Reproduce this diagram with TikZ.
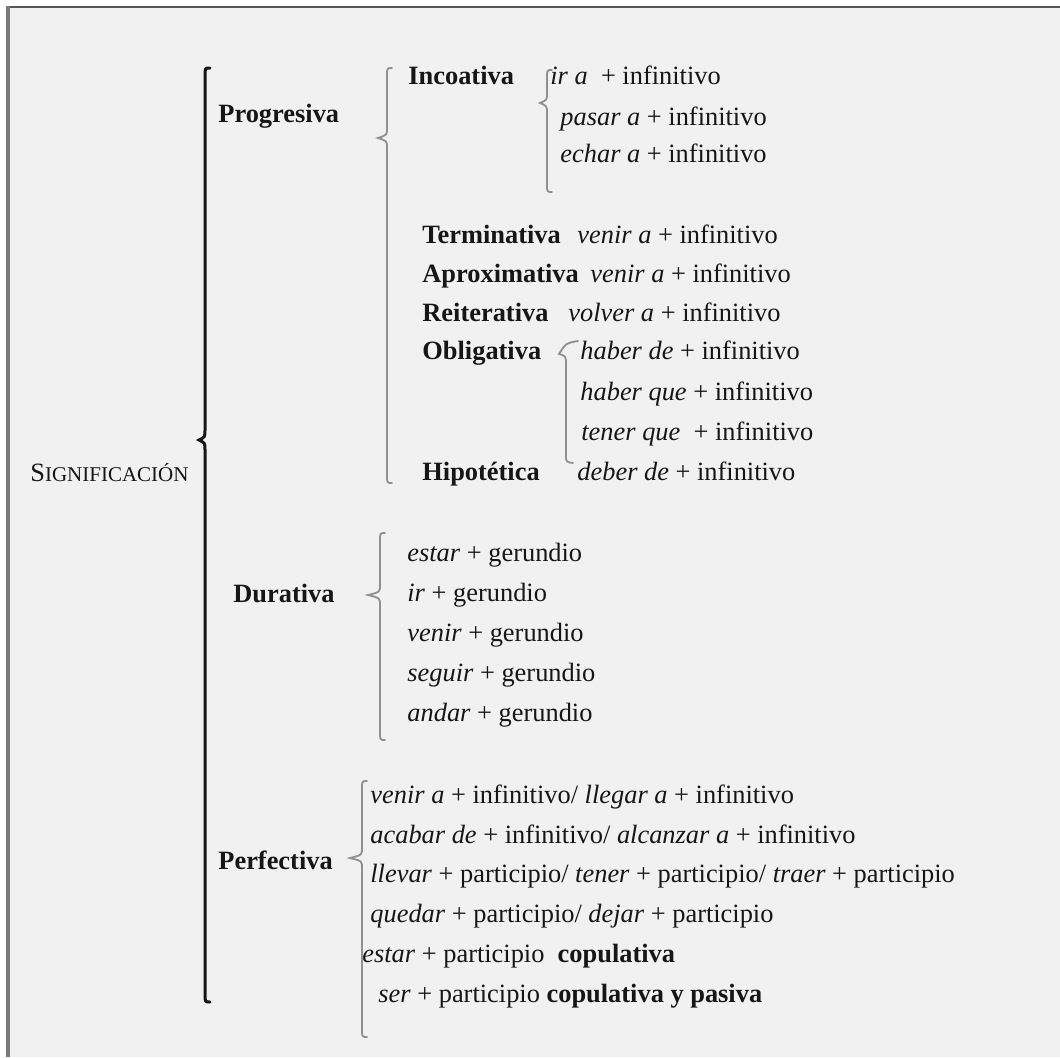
\documentclass[tikz,border=0pt]{standalone}
\usepackage{fontspec}
\setmainfont{Liberation Serif}
\usepackage{tikz}
\usetikzlibrary{positioning}
\definecolor{paper}{HTML}{F1F1F1}
\definecolor{ink}{HTML}{161616}
\definecolor{rimtop}{HTML}{555555}
\definecolor{rimleft}{HTML}{7A7A7A}
\definecolor{brgrey}{HTML}{909090}
\newcommand\txtsize{\fontsize{13.2pt}{15pt}\selectfont}
\tikzset{
  lbl/.style={anchor=base west,inner sep=0pt,font=\txtsize\bfseries,text=ink},
  itm/.style={anchor=base west,inner sep=0pt,font=\txtsize,text=ink},
  brc/.style={draw=brgrey,line width=0.9pt,line cap=round},
  mainbrc/.style={draw=ink,line width=1.5pt,line cap=round},
}
% #1 style, #2 x of stem, #3 x of tip, #4 top, #5 tip y, #6 bottom
\newcommand\curlybr[6]{%
  \draw[#1] ({#2+5},#4) .. controls (#2,#4) .. (#2,{#4+8}) -- (#2,{#5-10})
    .. controls (#2,{#5-3}) .. (#3,#5) .. controls (#2,{#5+3}) .. (#2,{#5+10})
    -- (#2,{#6-8}) .. controls (#2,#6) .. ({#2+5},#6);}

\begin{document}
\begin{tikzpicture}[x=0.5pt,y=-0.5pt]
  \useasboundingbox (0,0) rectangle (1060,1057);
  \fill[white] (0,0) rectangle (1060,1057);
  \fill[paper] (6,6) rectangle (1060,1057);
  \draw[rimtop,line width=1.3pt] (6,7) -- (1060,7);
  \draw[rimleft,line width=1.6pt] (8,6) -- (8,1057);

  \node[itm] (sig) at (30,481) {S{\fontsize{10.5pt}{12pt}\selectfont IGNIFICACIÓN}};
  \curlybr{mainbrc}{205}{199}{68}{440}{1002}

  \node[lbl] (prog) at (218,122) {Progresiva};
  \curlybr{brc}{387}{378}{68}{138}{483}
  \node[lbl] (inco) at (408,84) {Incoativa};
  \curlybr{brc}{547}{540}{70}{103}{192}
  \node[itm] (ira) at (550,84) {\textit{ir a}\ \ + infinitivo};
  \node[itm] (pasar) at (560,125) {\textit{pasar a} + infinitivo};
  \node[itm] (echar) at (560,162) {\textit{echar a} + infinitivo};
  \node[lbl] (term) at (422,243) {Terminativa};
  \node[itm] (termv) at (577,243) {\textit{venir a} + infinitivo};
  \node[lbl] (aprox) at (422,282) {Aproximativa};
  \node[itm] (aproxv) at (590,282) {\textit{venir a} + infinitivo};
  \node[lbl] (reit) at (422,321) {Reiterativa};
  \node[itm] (reitv) at (568,321) {\textit{volver a} + infinitivo};
  \node[lbl] (oblig) at (422,359) {Obligativa};
  \draw[brc] (578,341) .. controls (566,343) .. (559,354) .. controls (566,356) .. (566,366)
    -- (566,455) .. controls (566,462) .. (573,463);
  \node[itm] (haberde) at (580,359) {\textit{haber de} + infinitivo};
  \node[itm] (haberque) at (580,400) {\textit{haber que} + infinitivo};
  \node[itm] (tenerque) at (581,440) {\textit{tener que}\ \ + infinitivo};
  \node[lbl] (hipot) at (422,480) {Hipotética};
  \node[itm] (deberde) at (577,480) {\textit{deber de} + infinitivo};

  \node[lbl] (dur) at (233,602) {Durativa};
  \curlybr{brc}{380}{368}{533}{595}{740}
  \node[itm] (estarg) at (407,561) {\textit{estar} + gerundio};
  \node[itm] (irg) at (407,601) {\textit{ir} + gerundio};
  \node[itm] (venirg) at (407,641) {\textit{venir} + gerundio};
  \node[itm] (seguirg) at (407,681) {\textit{seguir} + gerundio};
  \node[itm] (andarg) at (407,721) {\textit{andar} + gerundio};

  \node[lbl] (perf) at (218,869) {Perfectiva};
  \curlybr{brc}{362}{350}{781}{858}{1037}
  \node[itm] (venira) at (370,803) {\textit{venir a} + infinitivo/ \textit{llegar a} + infinitivo};
  \node[itm] (acabar) at (370,843) {\textit{acabar de} + infinitivo/ \textit{alcanzar a} + infinitivo};
  \node[itm] (llevar) at (370,882) {\textit{llevar} + participio/ \textit{tener} + participio/ \textit{traer} + participio};
  \node[itm] (quedar) at (370,922) {\textit{quedar} + participio/ \textit{dejar} + participio};
  \node[itm] (estarp) at (362,962) {\textit{estar} + participio\ \ \textbf{copulativa}};
  \node[itm] (serp) at (378,1002) {\textit{ser} + participio \textbf{copulativa y pasiva}};
\end{tikzpicture}
\end{document}
